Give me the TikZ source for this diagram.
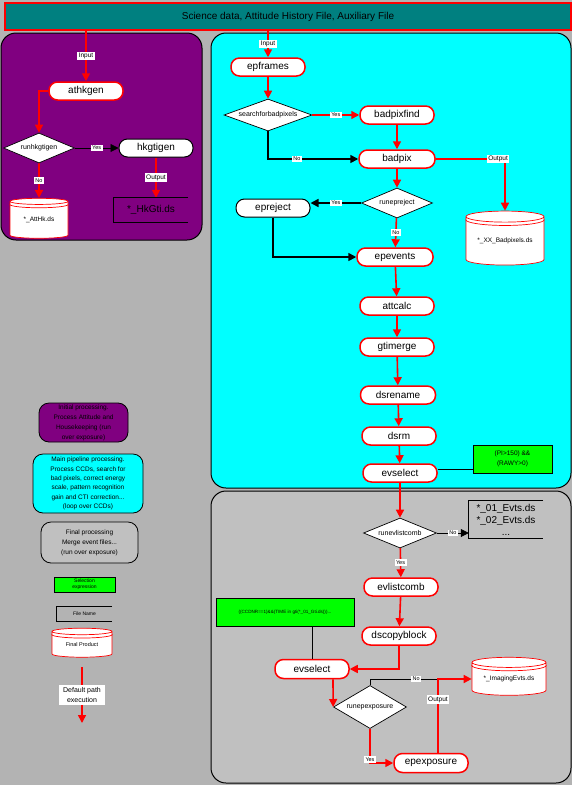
\documentclass[tikz,border=0pt]{standalone}
\usepackage{fontspec}
\setmainfont{Liberation Sans}
\usetikzlibrary{shapes.geometric,arrows.meta,calc}

\definecolor{bggray}{HTML}{B3B3B3}
\definecolor{finalgray}{HTML}{C0C0C0}
\definecolor{titleteal}{HTML}{008080}
\definecolor{initpurple}{HTML}{800080}
\definecolor{maincyan}{HTML}{00FFFF}
\definecolor{selgreen}{HTML}{00FF00}

\tikzset{
  task/.style={rectangle,rounded corners=8.5pt,draw=red,line width=1.5pt,fill=white,minimum width=74pt,minimum height=18pt,inner sep=0pt,font=\fontsize{10}{12}\selectfont},
  subtask/.style={task,draw=black,line width=1pt},
  test/.style={diamond,draw=black,line width=0.7pt,fill=white,aspect=2.4,inner sep=0pt,font=\fontsize{7}{8}\selectfont},
  dbfile/.style={cylinder,shape border rotate=90,aspect=0.2,draw=red,line width=0.7pt,fill=white,inner sep=0pt,font=\fontsize{6.5}{7}\selectfont},
  namebox/.style={rectangle,inner sep=0pt,align=center,font=\fontsize{10}{12}\selectfont},
  selbox/.style={rectangle,draw=black,line width=0.8pt,fill=selgreen,align=center,inner sep=0pt,font=\fontsize{6.5}{10}\selectfont},
  panel/.style={rectangle,rounded corners=15pt,draw=black,line width=1pt},
  legbox/.style={rectangle,rounded corners=10pt,draw=black,line width=0.8pt,align=center,inner sep=0pt,font=\fontsize{6.5}{10}\selectfont},
  flow/.style={draw=red,line width=1.6pt,-{Triangle[length=8pt,width=8pt]}},
  ctrl/.style={draw=black,line width=1.6pt,-{Triangle[length=8pt,width=8pt]}},
  link/.style={draw=black,line width=0.8pt},
  lbl/.style={fill=white,inner sep=1.5pt,font=\fontsize{6.5}{7}\selectfont},
  ynlbl/.style={lbl,font=\fontsize{5.5}{6}\selectfont}
}

\begin{document}
\begin{tikzpicture}[x=1pt,y=-1pt]

      \fill[bggray] (0,0) rectangle (572,785);
      \useasboundingbox (0,0) rectangle (572,785);

      % panels
      \node[panel,fill=initpurple,minimum width=201pt,minimum height=207pt] (initpanel) at (101.5,136.5){};
      \node[panel,fill=maincyan,minimum width=360pt,minimum height=455pt] (mainpanel) at (391,260.5){};
      \node[panel,fill=finalgray,minimum width=360pt,minimum height=292pt] (finalpanel) at (391,637){};
      \node[rectangle,draw=red,line width=1.5pt,fill=titleteal,minimum width=566pt,minimum height=27pt,font=\fontsize{10}{12}\selectfont] (title) at (288,16.5){Science data, Attitude History File, Auxiliary File};

      % initial processing
      \node[task] (athkgen) at (86,91){athkgen};
      \node[test,minimum width=71pt,minimum height=30pt] (runhk) at (39,148){runhkgtigen};
      \node[subtask] (hkgtigen) at (156,148){hkgtigen};
      \node[namebox,minimum width=74pt,minimum height=24pt] (hkgti) at (151,210){*\_HkGti.ds};
      \node[dbfile,minimum width=58pt,minimum height=40pt] (atthk) at (39,220){*\_AttHk.ds};

      \draw[flow] (title.south -| athkgen) -- node[lbl]{Input} (athkgen);
      \draw[flow] (athkgen.west) -| (runhk.north);
      \draw[ctrl,line width=0.8pt] (runhk) -- node[ynlbl]{Yes} (hkgtigen);
      \draw[flow] (runhk) -- node[ynlbl]{No} (atthk);
      \draw[flow] (hkgtigen.south) -- node[lbl]{Output} (hkgtigen.south |- hkgti.north);

      % main pipeline
      \node[task] (epframes) at (268,67){epframes};
      \node[test,minimum width=88pt,minimum height=32pt] (sbp) at (268,115){searchforbadpixels};
      \node[task] (badpixfind) at (397,115){badpixfind};
      \node[task,minimum width=76pt] (badpix) at (397,159){badpix};
      \node[dbfile,minimum width=78pt,minimum height=54pt] (badpx) at (505,241){*\_XX\_Badpixels.ds};
      \node[test,minimum width=71pt,minimum height=30pt] (rp) at (397,203){runepreject};
      \node[subtask] (epreject) at (273,208){epreject};
      \node[task,minimum width=76pt] (epevents) at (395,257){epevents};
      \node[task] (attcalc) at (397,306){attcalc};
      \node[task] (gtimerge) at (397,347){gtimerge};
      \node[task,minimum width=75pt] (dsrename) at (398,395){dsrename};
      \node[task] (dsrm) at (399,436){dsrm};
      \node[task] (evselect) at (400,473){evselect};
      \node[selbox,minimum width=79pt,minimum height=28pt] (pifilter) at (512.5,459){(PI>150) \&\&\\(RAWY>0)};

      \draw[flow] (title.south -| epframes) -- node[lbl]{Input} (epframes);
      \draw[flow] (epframes) -- (sbp);
      \draw[flow] (sbp) -- node[ynlbl]{Yes} (badpixfind);
      \draw[ctrl] (sbp.south) |- node[ynlbl,pos=0.66]{No} (badpix);
      \draw[flow] (badpixfind) -- (badpix);
      \draw[flow] (badpix) -| node[lbl,pos=0.45]{Output} (badpx);
      \draw[flow] (badpix) -- (rp);
      \draw[ctrl] (rp) -- node[ynlbl]{Yes} (rp -| epreject.east);
      \draw[flow] (rp) -- node[ynlbl]{No} (epevents);
      \draw[ctrl] (epreject) |- (epevents);
      \draw[flow] (epevents) -- (attcalc);
      \draw[flow] (attcalc) -- (gtimerge);
      \draw[flow] (gtimerge) -- (dsrename);
      \draw[flow] (dsrename) -- (dsrm);
      \draw[flow] (dsrm) -- (evselect);
      \draw[link] ([yshift=4pt]evselect.east) -- ([yshift=4pt]evselect.east -| pifilter.west);

      % final processing
      \node[test,minimum width=73pt,minimum height=30pt] (rec) at (400,533){runevlistcomb};
      \node[namebox,minimum width=74pt,minimum height=37pt] (evlists) at (506,519.5){*\_01\_Evts.ds\\*\_02\_Evts.ds\\...};
      \node[task] (evlistcomb) at (401,587){evlistcomb};
      \node[task] (dscopyblock) at (399,636){dscopyblock};
      \node[task,minimum height=19pt] (evselectb) at (312,669){evselect};
      \node[selbox,minimum width=138pt,minimum height=28pt,font=\fontsize{4.6}{5}\selectfont] (gtifilter) at (285,612){((CCDNR==1)\&\&(TIME in gti(*\_01\_Gti.ds)))...};
      \node[test,minimum width=73pt,minimum height=43pt] (rpx) at (370,707){runepexposure};
      \node[dbfile,minimum width=74pt,minimum height=38pt] (imgev) at (509,679){*\_ImagingEvts.ds};
      \node[task,minimum height=19pt] (epexposure) at (431,763){epexposure};
      \coordinate (outjoin) at (438,679);

      \draw[flow] (evselect) -- (rec);
      \draw[link,-{Triangle[length=8pt,width=8pt]}] (rec) -- node[ynlbl]{No} (rec -| evlists.west);
      \draw[flow] (rec) -- node[ynlbl]{Yes} (evlistcomb);
      \draw[flow] (evlistcomb) -- (dscopyblock);
      \draw[flow] (dscopyblock) |- (evselectb);
      \draw[link] (gtifilter.south -| evselectb) -- (evselectb);
      \draw[flow] ([xshift=21pt]evselectb.south) -- (rpx.west);
      \draw[link] (rpx.north) |- node[ynlbl,pos=0.84]{No} (outjoin);
      \draw[flow] (epexposure.north -| outjoin) -- node[lbl,pos=0.72]{Output} (outjoin) -- (imgev);
      \draw[flow] (rpx) |- node[ynlbl,pos=0.45]{Yes} (epexposure);

      % legend
      \node[legbox,fill=initpurple,minimum width=89pt,minimum height=39pt] (leginit) at (83.5,422.5){Initial processing.\\Process Attitude and\\Housekeeping (run\\over exposure)};
      \node[legbox,fill=maincyan,minimum width=110pt,minimum height=59pt,font=\fontsize{6.5}{9.4}\selectfont] (legmain) at (88,483.5){Main pipeline processing.\\Process CCDs, search for\\bad pixels, correct energy\\scale, pattern recognition\\gain and CTI correction...\\(loop over CCDs)};
      \node[legbox,fill=finalgray,minimum width=97pt,minimum height=41pt] (legfinal) at (89.5,542.5){Final processing\\Merge event files...\\(run over exposure)};
      \node[selbox,minimum width=61pt,minimum height=15pt,font=\fontsize{5}{6}\selectfont] (legsel) at (84.5,584.5){Selection\\expression};
      \node[namebox,minimum width=55pt,minimum height=14pt,font=\fontsize{5}{6}\selectfont] (legfile) at (84.5,614){File Name};
      \node[dbfile,minimum width=60pt,minimum height=29pt,font=\fontsize{5.5}{6}\selectfont] (legprod) at (82,644.5){Final Product};
      \coordinate (legfrom) at (82,667);
      \coordinate (legto) at (82,723);
      \draw[flow] (legfrom) -- node[lbl,align=center,inner xsep=4pt,inner ysep=2pt,font=\fontsize{7}{10.5}\selectfont]{Default path\\execution} (legto);

      % open file boxes and second rim of the cylinders
      \foreach \f in {hkgti,evlists,legfile}
        \draw[link] (\f.north east) -- (\f.north west) -- (\f.south west) -- (\f.south east);
      \foreach \c in {atthk,badpx,imgev,legprod}
        \draw[red,line width=0.7pt] let \p1=(\c.before top), \p2=(\c.after top), \p3=(\c.top), \n1={min(\x1,\x2)}, \n2={abs(\x2-\x1)/2}, \n3={\y3-\y1} in ({\n1*1pt},{\y1-3pt}) arc[start angle=180,end angle=360,x radius={\n2*1pt},y radius={\n3*1pt}];

\end{tikzpicture}
\end{document}
